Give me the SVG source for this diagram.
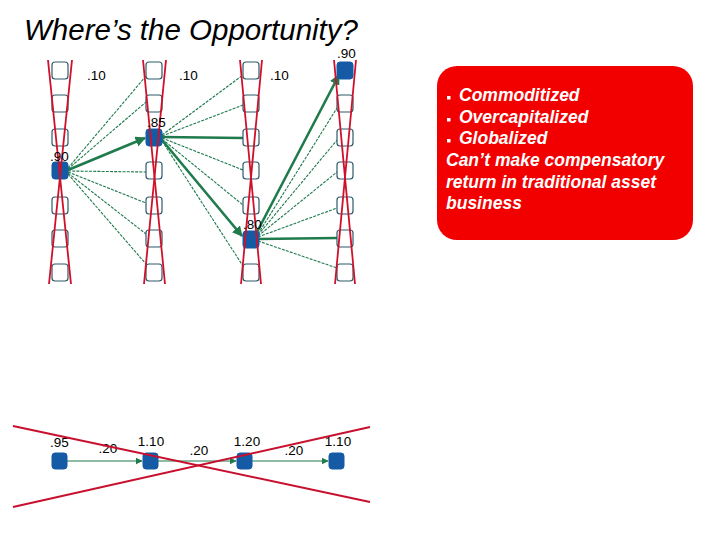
<svg xmlns="http://www.w3.org/2000/svg" width="720" height="540" viewBox="0 0 720 540">
<style>
.cell{fill:#fff;stroke:#2e5a6a;stroke-width:1.2}
.blue{fill:#155aa4;stroke:#155aa4;stroke-width:1}
.thin{stroke:#1f7a4c;stroke-width:1.1;stroke-dasharray:3 1.2;fill:none}
.thick{stroke:#1f7a4c;stroke-width:2.6;fill:none}
.solid{stroke:#1f7a4c;stroke-width:1.2;fill:none}
.rx{stroke:#d0102a;stroke-width:1.8;fill:none}
.bx{stroke:#c8102e;stroke-width:2;fill:none}
.lbl{font-family:"Liberation Sans",Arial,sans-serif;font-size:13.5px;fill:#000}
.note{font-family:"Liberation Sans",Arial,sans-serif;font-size:17.5px;font-weight:bold;font-style:italic;fill:#fff}
</style>
<defs>
<marker id="ah" viewBox="0 0 10 10" refX="9" refY="5" markerWidth="4" markerHeight="4" orient="auto"><path d="M0,0 L10,5 L0,10 z" fill="#1f7a4c"/></marker>
<marker id="ahs" viewBox="0 0 10 10" refX="9" refY="5" markerWidth="6" markerHeight="6" orient="auto"><path d="M0,0 L10,5 L0,10 z" fill="#1f7a4c"/></marker>
</defs>
<rect width="720" height="540" fill="#fff"/>
<text x="24" y="40" style="font-family:'Liberation Sans',Arial,sans-serif;font-size:29.5px;font-style:italic;fill:#000">Where’s the Opportunity?</text>

<g id="connectors">
<line class="thin" x1="68" y1="168" x2="146" y2="76"/>
<line class="thin" x1="68" y1="169" x2="146" y2="102"/>
<line class="thick" x1="68" y1="170" x2="145" y2="138" marker-end="url(#ah)"/>
<line class="thin" x1="68" y1="171" x2="146" y2="172"/>
<line class="thin" x1="68" y1="172" x2="146" y2="203"/>
<line class="thin" x1="68" y1="173" x2="146" y2="234"/>
<line class="thin" x1="68" y1="174" x2="146" y2="264"/>

<line class="thin" x1="162" y1="135" x2="243" y2="75"/>
<line class="thin" x1="162" y1="136" x2="243" y2="105"/>
<line class="thick" x1="162" y1="137" x2="243" y2="138"/>
<line class="thin" x1="162" y1="138" x2="243" y2="170"/>
<line class="thin" x1="162" y1="139" x2="243" y2="205"/>
<line class="thick" x1="162" y1="140" x2="242" y2="236" marker-end="url(#ah)"/>
<line class="thin" x1="162" y1="141" x2="243" y2="266"/>

<line class="thick" x1="257" y1="232" x2="339" y2="75" marker-end="url(#ah)"/>
<line class="thin" x1="258" y1="234" x2="337" y2="108"/>
<line class="thin" x1="258" y1="235" x2="337" y2="140"/>
<line class="thin" x1="258" y1="236" x2="337" y2="172"/>
<line class="thin" x1="258" y1="237" x2="337" y2="208"/>
<line class="thick" x1="258" y1="239" x2="337" y2="238"/>
<line class="thin" x1="258" y1="241" x2="337" y2="268"/>

<line class="solid" x1="67" y1="461" x2="142" y2="461" marker-end="url(#ahs)"/>
<line class="solid" x1="158" y1="461" x2="236" y2="461" marker-end="url(#ahs)"/>
<line class="solid" x1="252" y1="461" x2="328" y2="461" marker-end="url(#ahs)"/>
</g>

<g id="col1">
<rect class="cell" x="52" y="62" width="16" height="17" rx="3"/>
<rect class="cell" x="52" y="95" width="16" height="17" rx="3"/>
<rect class="cell" x="52" y="129" width="16" height="17" rx="3"/>
<rect class="blue" x="52" y="162" width="16" height="17" rx="3"/>
<rect class="cell" x="52" y="197" width="16" height="17" rx="3"/>
<rect class="cell" x="52" y="230" width="16" height="17" rx="3"/>
<rect class="cell" x="52" y="264" width="16" height="17" rx="3"/>
<line class="rx" x1="48" y1="60" x2="71" y2="284"/>
<line class="rx" x1="72" y1="60" x2="49" y2="284"/>
<text class="lbl" x="50" y="161" font-size="12">.90</text>
</g>

<g id="col2">
<rect class="cell" x="146" y="62" width="16" height="17" rx="3"/>
<rect class="cell" x="146" y="95" width="16" height="17" rx="3"/>
<rect class="blue" x="146" y="129" width="16" height="17" rx="3"/>
<rect class="cell" x="146" y="162" width="16" height="17" rx="3"/>
<rect class="cell" x="146" y="197" width="16" height="17" rx="3"/>
<rect class="cell" x="146" y="230" width="16" height="17" rx="3"/>
<rect class="cell" x="146" y="264" width="16" height="17" rx="3"/>
<line class="rx" x1="143" y1="60" x2="165" y2="284"/>
<line class="rx" x1="166" y1="60" x2="144" y2="284"/>
<text class="lbl" x="147" y="127">.85</text>
</g>

<g id="col3">
<rect class="cell" x="243" y="62" width="16" height="17" rx="3"/>
<rect class="cell" x="243" y="95" width="16" height="17" rx="3"/>
<rect class="cell" x="243" y="129" width="16" height="17" rx="3"/>
<rect class="cell" x="243" y="162" width="16" height="17" rx="3"/>
<rect class="cell" x="243" y="197" width="16" height="17" rx="3"/>
<rect class="blue" x="243" y="231" width="16" height="17" rx="3"/>
<rect class="cell" x="243" y="264" width="16" height="17" rx="3"/>
<line class="rx" x1="240" y1="60" x2="261" y2="284"/>
<line class="rx" x1="262" y1="60" x2="241" y2="284"/>
<text class="lbl" x="243" y="229">.80</text>
</g>

<g id="col4">
<rect class="blue" x="337" y="62" width="16" height="17" rx="3"/>
<rect class="cell" x="337" y="95" width="16" height="17" rx="3"/>
<rect class="cell" x="337" y="129" width="16" height="17" rx="3"/>
<rect class="cell" x="337" y="162" width="16" height="17" rx="3"/>
<rect class="cell" x="337" y="197" width="16" height="17" rx="3"/>
<rect class="cell" x="337" y="230" width="16" height="17" rx="3"/>
<rect class="cell" x="337" y="264" width="16" height="17" rx="3"/>
<line class="rx" x1="334" y1="60" x2="355" y2="284"/>
<line class="rx" x1="356" y1="60" x2="335" y2="284"/>
<text class="lbl" x="337" y="58" font-size="12">.90</text>
</g>

<g id="labels-top">
<text class="lbl" x="87" y="80">.10</text>
<text class="lbl" x="179" y="80">.10</text>
<text class="lbl" x="270" y="80">.10</text>
</g>

<g id="note">
<rect x="437" y="66" width="256" height="174" rx="20" fill="#f20000"/>
<rect x="447" y="96" width="3.5" height="3.5" fill="#fff"/>
<rect x="447" y="118" width="3.5" height="3.5" fill="#fff"/>
<rect x="447" y="139" width="3.5" height="3.5" fill="#fff"/>
<text class="note" x="459" y="101">Commoditized</text>
<text class="note" x="459" y="123">Overcapitalized</text>
<text class="note" x="459" y="144">Globalized</text>
<text class="note" x="446" y="166">Can’t make compensatory</text>
<text class="note" x="446" y="188">return in traditional asset</text>
<text class="note" x="446" y="209">business</text>
</g>

<g id="bottom">
<rect class="blue" x="52" y="453" width="15" height="16" rx="3"/>
<rect class="blue" x="143" y="453" width="15" height="16" rx="3"/>
<rect class="blue" x="237" y="453" width="15" height="16" rx="3"/>
<rect class="blue" x="329" y="453" width="15" height="16" rx="3"/>
<text class="lbl" x="59.5" y="447" text-anchor="middle">.95</text>
<text class="lbl" x="151" y="446" text-anchor="middle">1.10</text>
<text class="lbl" x="247" y="446" text-anchor="middle">1.20</text>
<text class="lbl" x="338" y="446" text-anchor="middle">1.10</text>
<text class="lbl" x="108" y="453" text-anchor="middle">.20</text>
<text class="lbl" x="199" y="455" text-anchor="middle">.20</text>
<text class="lbl" x="294" y="455" text-anchor="middle">.20</text>
<line class="bx" x1="13" y1="426" x2="370" y2="502"/>
<line class="bx" x1="13" y1="507" x2="370" y2="427"/>
</g>
</svg>
